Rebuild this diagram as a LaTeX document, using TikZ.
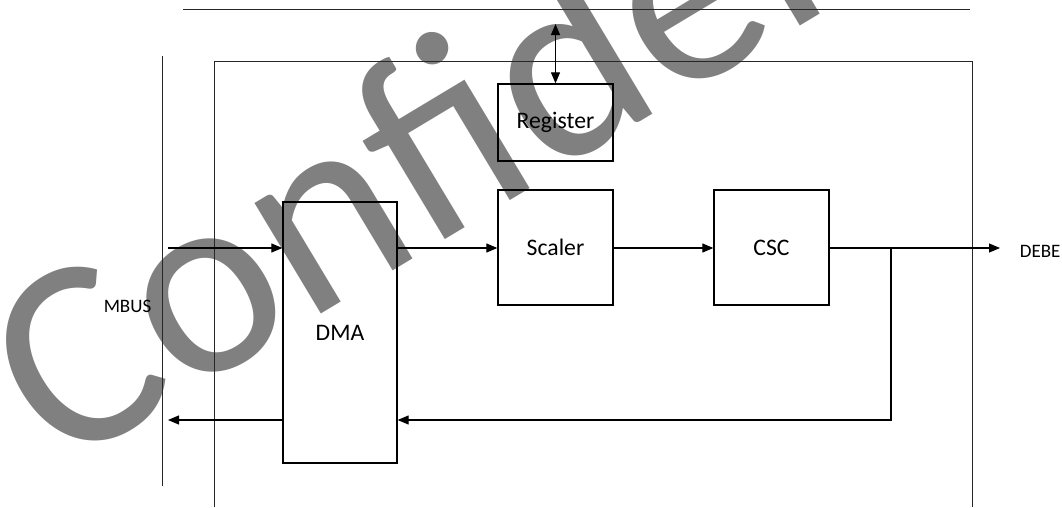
\documentclass[tikz,border=0pt]{standalone}
\usepackage{fontspec}
\setmainfont{Carlito}
\usetikzlibrary{arrows.meta}
\begin{document}
\begin{tikzpicture}[x=1pt,y=-1pt,
  blk/.style={draw=black,line width=1.3pt,inner sep=0pt,minimum width=115pt,font=\fontsize{23.7}{26}\selectfont},
  conn/.style={line width=1.1pt,-{Triangle[length=11pt,width=9pt]}},
  plain/.style={line width=1.1pt},
  frame/.style={line width=0.9pt,draw=black!85},
  lab/.style={inner sep=0pt,font=\fontsize{19}{21}\selectfont},
  wmark/.style={inner sep=0pt,text=black!50,font=\fontsize{270}{270}\selectfont}]
\useasboundingbox (0,0) rectangle (1062,507);
\clip (0,0) rectangle (1062,507);
% watermark
\node[wmark,anchor=base west,rotate=31] (wm) at (59.6,471.3) {Confidential};
% frame lines
\coordinate (tl1) at (183,9);
\coordinate (tl2) at (970,9);
\draw[frame] (tl1) -- (tl2);
\coordinate (fa) at (214,507);
\coordinate (fb1) at (214,61);
\coordinate (fc) at (972,61);
\coordinate (fd) at (972,507);
\draw[frame] (fa) -- (fb1) -- (fc) -- (fd);
\coordinate (bus1) at (162,56);
\coordinate (bus2) at (162,486);
\draw[frame] (bus1) -- (bus2);
% blocks
\node[blk,minimum height=77pt] (reg) at (555.5,122.5) {Register};
\node[blk,minimum height=115pt] (scaler) at (555.5,247.5) {Scaler};
\node[blk,minimum height=115pt] (csc) at (771.5,247.5) {CSC};
\node[blk,minimum width=114pt,minimum height=261pt] (dma) at (340,332.5) {DMA};
% labels
\node[lab] (mbus) at (127.5,306) {MBUS};
\node[lab,anchor=west] (debe) at (1019.6,251) {DEBE};
% connectors
\coordinate (regtop) at (555.5,24);
\draw[line width=1.1pt,{Triangle[length=11pt,width=9pt]}-{Triangle[length=11pt,width=9pt]}] (regtop) -- (reg.north);
\coordinate (mbusin) at (168,248);
\draw[conn] (mbusin) -- (dma.west |- mbusin);
\draw[conn] (dma.east |- mbusin) -- (scaler.west |- mbusin);
\draw[conn] (scaler.east |- mbusin) -- (csc.west |- mbusin);
\coordinate (debeend) at (1000,248);
\draw[conn] (csc.east |- mbusin) -- (debeend);
\coordinate (br) at (891,248);
\coordinate (fbk) at (891,420);
\draw[conn] (br) -- (fbk) -- (dma.east |- fbk);
\coordinate (mbusout) at (168,420);
\draw[conn] (dma.west |- fbk) -- (mbusout);
\end{tikzpicture}
\end{document}
